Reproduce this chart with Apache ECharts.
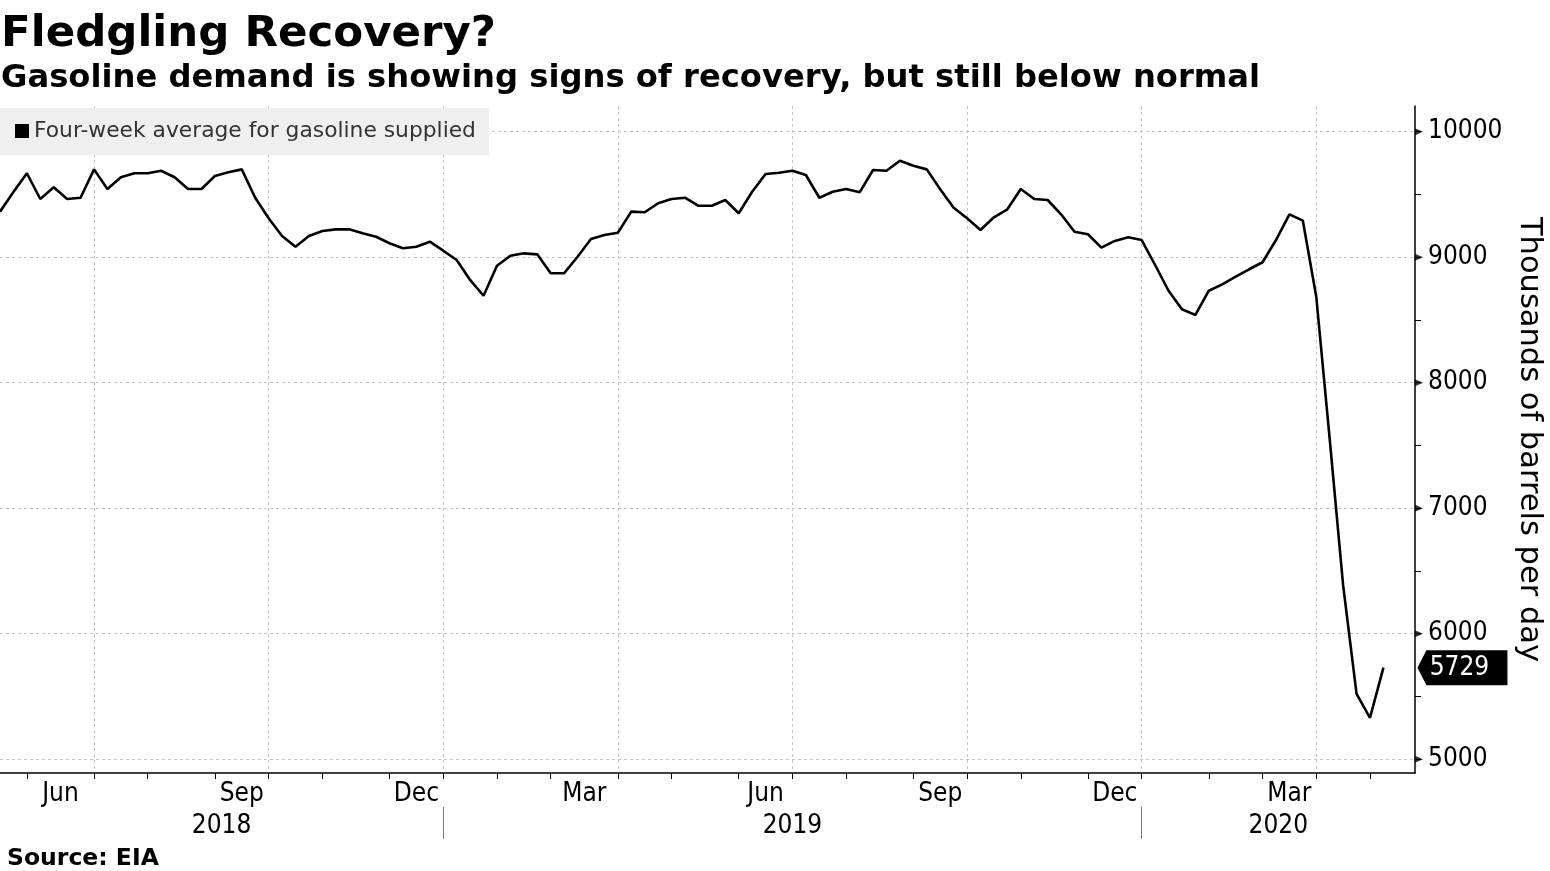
<!DOCTYPE html>
<html>
<head>
<meta charset="utf-8">
<script src="https://cdn.jsdelivr.net/npm/echarts@6/dist/echarts.min.js"></script>
<style>
html,body{margin:0;padding:0;background:#fff;}
#chart{width:1550px;height:871px;}
</style>
</head>
<body>
<div id="chart"></div>
<script>
// ---- data ----
const firstWeek = '2018-05-18';            // week-ending date of the first point (weekly series)
const seriesName = 'Four-week average for gasoline supplied';
const values = [
  9363, 9520, 9669, 9464, 9557, 9464, 9474, 9700, 9544, 9637,
  9669, 9669, 9689, 9637, 9544, 9544, 9647, 9677, 9700, 9474,
  9310, 9169, 9084, 9169, 9209, 9222, 9222, 9191, 9163, 9111,
  9071, 9084, 9124, 9052, 8978, 8819, 8693, 8932, 9012, 9031,
  9023, 8872, 8872, 9004, 9145, 9177, 9195, 9363, 9358, 9430,
  9464, 9474, 9410, 9410, 9456, 9350, 9522, 9663, 9673, 9689,
  9655, 9474, 9522, 9544, 9517, 9695, 9689, 9769, 9729, 9700,
  9541, 9395, 9310, 9217, 9318, 9382, 9544, 9464, 9456, 9342,
  9203, 9183, 9076, 9130, 9159, 9137, 8938, 8733, 8585, 8540,
  8733, 8784, 8845, 8904, 8960, 9137, 9342, 9291, 8685, 7550,
  6385, 5520, 5330, 5729
];
const monthAbbr = ['Jan','Feb','Mar','Apr','May','Jun','Jul','Aug','Sep','Oct','Nov','Dec'];
const labelledMonths = [2, 5, 8, 11];      // Mar, Jun, Sep, Dec
const quarterMonths = [0, 3, 6, 9];        // gridlines at Jan, Apr, Jul, Oct
const yLabelValues = [5000, 6000, 7000, 8000, 9000, 10000];
const yTickValues = [5000, 5500, 6000, 6500, 7000, 7500, 8000, 8500, 9000, 9500, 10000];
const yMin = 4890, yMax = 10205;
const xMax = 105.35;                       // visible extent in weeks

// ---- derived (weekly dates, ticks) ----
const dates = [];
(function(){
  const t0 = Date.parse(firstWeek + 'T00:00:00Z');
  for (let i = 0; i < values.length; i++) dates.push(new Date(t0 + i * 7 * 86400000));
})();
const monthTicks = [];
for (let i = 1; i < dates.length; i++) {
  if (dates[i].getUTCMonth() !== dates[i-1].getUTCMonth()) monthTicks.push(i);
}
const monthLabelPos = [], monthLabelText = [];
const quarterTicks = [];
const yearBounds = [];
monthTicks.forEach((t, j) => {
  const m = dates[t].getUTCMonth();
  const next = j + 1 < monthTicks.length ? monthTicks[j+1] : xMax;
  if (labelledMonths.indexOf(m) >= 0) { monthLabelPos.push((t + next) / 2); monthLabelText.push(monthAbbr[m]); }
  if (quarterMonths.indexOf(m) >= 0) quarterTicks.push(t);
  if (m === 0) yearBounds.push(t);
});
const yearLabelPos = [], yearLabelText = [];
(function(){
  const edges = [0].concat(yearBounds).concat([xMax]);
  for (let i = 0; i < edges.length - 1; i++) {
    yearLabelPos.push((edges[i] + edges[i+1]) / 2);
    const idx = Math.min(Math.ceil(edges[i]), dates.length - 1);
    yearLabelText.push(String(dates[idx].getUTCFullYear()));
  }
})();
function lookup(posArr, txtArr, v) {
  for (let i = 0; i < posArr.length; i++) if (Math.abs(posArr[i] - v) < 1e-6) return txtArr[i];
  return '';
}
const seriesData = values.map((v, i) => [i, v]);
const last = values.length - 1;

const axisFont = "'DejaVu Sans Condensed', 'DejaVu Sans', sans-serif";
const axisSize = 26;
const dash = { color: '#c6c6c6', width: 1, type: [3, 3] };

const chart = echarts.init(document.getElementById('chart'), null, { renderer: 'canvas' });
chart.setOption({
  backgroundColor: '#ffffff',
  animation: false,
  title: [
    { text: 'Fledgling Recovery?', left: 1, top: 13, padding: 0,
      textStyle: { fontFamily: 'DejaVu Sans', fontWeight: 'bold', fontSize: 43.5, color: '#000' } },
    { text: 'Gasoline demand is showing signs of recovery, but still below normal', left: 1, top: 63, padding: 0,
      textStyle: { fontFamily: 'DejaVu Sans', fontWeight: 'bold', fontSize: 32.2, color: '#000' } },
    { text: 'Source: EIA', left: 7, top: 847, padding: 0,
      textStyle: { fontFamily: 'DejaVu Sans', fontWeight: 'bold', fontSize: 23.5, color: '#000' } }
  ],
  legend: {
    data: [seriesName], left: 0, top: 108, orient: 'horizontal',
    icon: 'rect', itemWidth: 14, itemHeight: 14,
    padding: [12, 13, 13, 15], backgroundColor: '#efefef',
    textStyle: { fontFamily: 'DejaVu Sans', fontSize: 21.8, color: '#333' },
    selectedMode: false
  },
  grid: { left: 0, right: 135, top: 106, bottom: 98, containLabel: false, outerBoundsMode: 'none' },
  xAxis: [
    { type: 'value', min: 0, max: xMax, position: 'bottom',
      axisLine: { show: true, onZero: false, lineStyle: { color: '#000', width: 1.5 } },
      axisTick: { show: true, customValues: monthTicks, length: 6, lineStyle: { color: '#000', width: 1 } },
      axisLabel: { show: true, customValues: monthLabelPos, margin: 8, color: '#000',
        fontFamily: axisFont, fontSize: axisSize, formatter: v => lookup(monthLabelPos, monthLabelText, v) },
      splitLine: { show: false } },
    { type: 'value', min: 0, max: xMax, position: 'bottom', offset: 34,
      axisLine: { show: false, onZero: false },
      axisTick: { show: true, customValues: yearBounds, length: 32, lineStyle: { color: '#777', width: 1 } },
      axisLabel: { show: true, customValues: yearLabelPos, margin: 6, color: '#000',
        fontFamily: axisFont, fontSize: axisSize, formatter: v => lookup(yearLabelPos, yearLabelText, v) },
      splitLine: { show: false } },
    { type: 'value', min: 0, max: xMax, position: 'top',
      axisLine: { show: false, onZero: false },
      axisTick: { show: false, customValues: quarterTicks },
      axisLabel: { show: false, customValues: quarterTicks },
      splitLine: { show: true, lineStyle: dash } }
  ],
  yAxis: [
    { type: 'value', min: yMin, max: yMax, position: 'right',
      name: 'Thousands of barrels per day', nameLocation: 'middle', nameRotate: -90, nameGap: 90,
      nameTextStyle: { fontFamily: 'DejaVu Sans', fontSize: 30.5, color: '#000' },
      axisLine: { show: true, onZero: false, lineStyle: { color: '#000', width: 1.5 } },
      axisTick: { show: true, customValues: yTickValues, length: 6, lineStyle: { color: '#000', width: 1 } },
      axisLabel: { show: true, customValues: yLabelValues, margin: 13, color: '#000',
        fontFamily: axisFont, fontSize: axisSize, formatter: v => String(v) },
      splitLine: { show: false } },
    { type: 'value', min: yMin, max: yMax, position: 'left',
      axisLine: { show: false, onZero: false },
      axisTick: { show: false, customValues: yLabelValues },
      axisLabel: { show: false, customValues: yLabelValues },
      splitLine: { show: true, lineStyle: dash } }
  ],
  series: [{
    name: seriesName, type: 'line', xAxisIndex: 0, yAxisIndex: 0,
    data: seriesData, showSymbol: false, symbol: 'none', smooth: false,
    lineStyle: { color: '#000', width: 2.6 }, itemStyle: { color: '#000' },
    z: 5,
    markPoint: {
      silent: true,
      symbol: 'path://M0,17.5 L9,0 L90,0 L90,35 L9,35 Z',
      symbolSize: [90, 35],
      symbolKeepAspect: false,
      symbolOffset: [79, 0],
      itemStyle: { color: '#000' },
      label: { show: true, position: 'inside', offset: [-3, 1], color: '#fff',
        fontFamily: axisFont, fontSize: axisSize, formatter: p => String(p.value) },
      data: [{ coord: [last, values[last]], value: values[last] }]
    }
  }, {
    name: 'labelled ticks', type: 'scatter', xAxisIndex: 0, yAxisIndex: 0,
    data: yLabelValues.map(v => [xMax, v]),
    symbol: 'triangle', symbolRotate: -90, symbolSize: [7, 8], symbolOffset: [4, 0],
    itemStyle: { color: '#000' }, silent: true, clip: false, z: 6
  }]
});
</script>
</body>
</html>
